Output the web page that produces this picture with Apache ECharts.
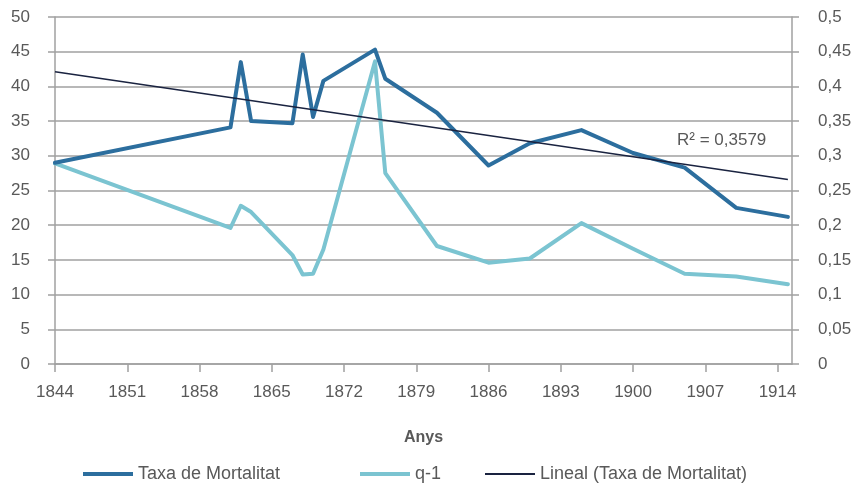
<!DOCTYPE html>
<html>
<head>
<meta charset="utf-8">
<script src="https://cdn.jsdelivr.net/npm/echarts@6/dist/echarts.min.js"></script>
<style>
  html, body { margin: 0; padding: 0; background: #fff; }
  #chart { width: 856px; height: 483px; }
</style>
</head>
<body>
<div id="chart"></div>
<script>
// anys amb dades
const years = [1844, 1861, 1862, 1863, 1867, 1868, 1869, 1870, 1875, 1876, 1881, 1886, 1890, 1895, 1900, 1905, 1910, 1915]
// taxa de mortalitat (eix esquerre)
const taxa = [29.0, 34.1, 43.5, 35.0, 34.7, 44.6, 35.6, 40.8, 45.3, 41.1, 36.2, 28.6, 31.8, 33.7, 30.4, 28.3, 22.5, 21.2]
// q-1 (eix dret)
const q1 = [0.289, 0.196, 0.228, 0.219, 0.157, 0.129, 0.130, 0.165, 0.436, 0.275, 0.170, 0.146, 0.152, 0.203, 0.166, 0.130, 0.126, 0.115]
// línia de tendència, extrems llegits del gràfic
const trendYears = [1844, 1915]
const trendValues = [42.1, 26.6]
const r2Label = 'R² = 0,3579'

const gray = '#a0a0a0'
const textColor = '#595959'
const font = 'Liberation Sans, Arial, sans-serif'

const chart = echarts.init(document.getElementById('chart'))

const option = {
  animation: false,
  textStyle: { fontFamily: font },
  grid: { left: 55, right: 64, top: 17, bottom: 119 },
  xAxis: {
    type: 'value',
    min: 1844,
    max: 1915.4,
    interval: 7,
    name: 'Anys',
    nameLocation: 'middle',
    nameGap: 66,
    nameTextStyle: { fontSize: 16, fontWeight: 'bold', color: textColor, fontFamily: font },
    axisLine: { show: true, lineStyle: { color: gray, width: 1.5 } },
    axisTick: { show: true, length: 8, lineStyle: { color: gray, width: 1.5 } },
    axisLabel: {
      fontSize: 17,
      color: textColor,
      margin: 20,
      showMaxLabel: false,
      fontFamily: font,
      formatter: v => String(v)
    },
    splitLine: { show: false }
  },
  yAxis: [
    {
      type: 'value',
      min: 0,
      max: 50,
      interval: 5,
      axisLine: { show: true, lineStyle: { color: gray, width: 1.5 } },
      axisTick: { show: true, length: 7, lineStyle: { color: gray, width: 1.5 } },
      axisLabel: { fontSize: 17, color: textColor, margin: 25, fontFamily: font },
      splitLine: { show: true, lineStyle: { color: gray, width: 1.5 } }
    },
    {
      type: 'value',
      position: 'right',
      min: 0,
      max: 0.5,
      interval: 0.05,
      axisLine: { show: true, lineStyle: { color: gray, width: 1.5 } },
      axisTick: { show: true, length: 7, lineStyle: { color: gray, width: 1.5 } },
      axisLabel: {
        fontSize: 17,
        color: textColor,
        margin: 26,
        fontFamily: font,
        formatter: v => String(+v.toFixed(2)).replace('.', ',')
      },
      splitLine: { show: false }
    }
  ],
  legend: [
    {
      left: 78,
      top: 460,
      data: ['Taxa de Mortalitat'],
      icon: 'rect',
      itemWidth: 50,
      itemHeight: 4,
      textStyle: { fontSize: 18, color: textColor, fontFamily: font }
    },
    {
      left: 355,
      top: 460,
      data: ['q-1'],
      icon: 'rect',
      itemWidth: 50,
      itemHeight: 4,
      textStyle: { fontSize: 18, color: textColor, fontFamily: font }
    },
    {
      left: 480,
      top: 460,
      data: ['Lineal (Taxa de Mortalitat)'],
      icon: 'rect',
      itemWidth: 50,
      itemHeight: 2,
      textStyle: { fontSize: 18, color: textColor, fontFamily: font }
    }
  ],
  graphic: [
    {
      type: 'text',
      left: 677,
      top: 132,
      style: { text: r2Label, fontSize: 17, fill: textColor, fontFamily: font }
    }
  ],
  series: [
    {
      name: 'Taxa de Mortalitat',
      type: 'line',
      yAxisIndex: 0,
      showSymbol: false,
      data: years.map((y, i) => [y, taxa[i]]),
      itemStyle: { color: '#2c6e9e' },
      lineStyle: { color: '#2c6e9e', width: 4, cap: 'round', join: 'round' },
      z: 3
    },
    {
      name: 'q-1',
      type: 'line',
      yAxisIndex: 1,
      showSymbol: false,
      data: years.map((y, i) => [y, q1[i]]),
      itemStyle: { color: '#7bc4d1' },
      lineStyle: { color: '#7bc4d1', width: 4, cap: 'round', join: 'round' },
      z: 2
    },
    {
      name: 'Lineal (Taxa de Mortalitat)',
      type: 'line',
      yAxisIndex: 0,
      showSymbol: false,
      data: trendYears.map((y, i) => [y, trendValues[i]]),
      itemStyle: { color: '#1a2340' },
      lineStyle: { color: '#1a2340', width: 1.5 },
      z: 4
    }
  ]
}

chart.setOption(option)
</script>
</body>
</html>
